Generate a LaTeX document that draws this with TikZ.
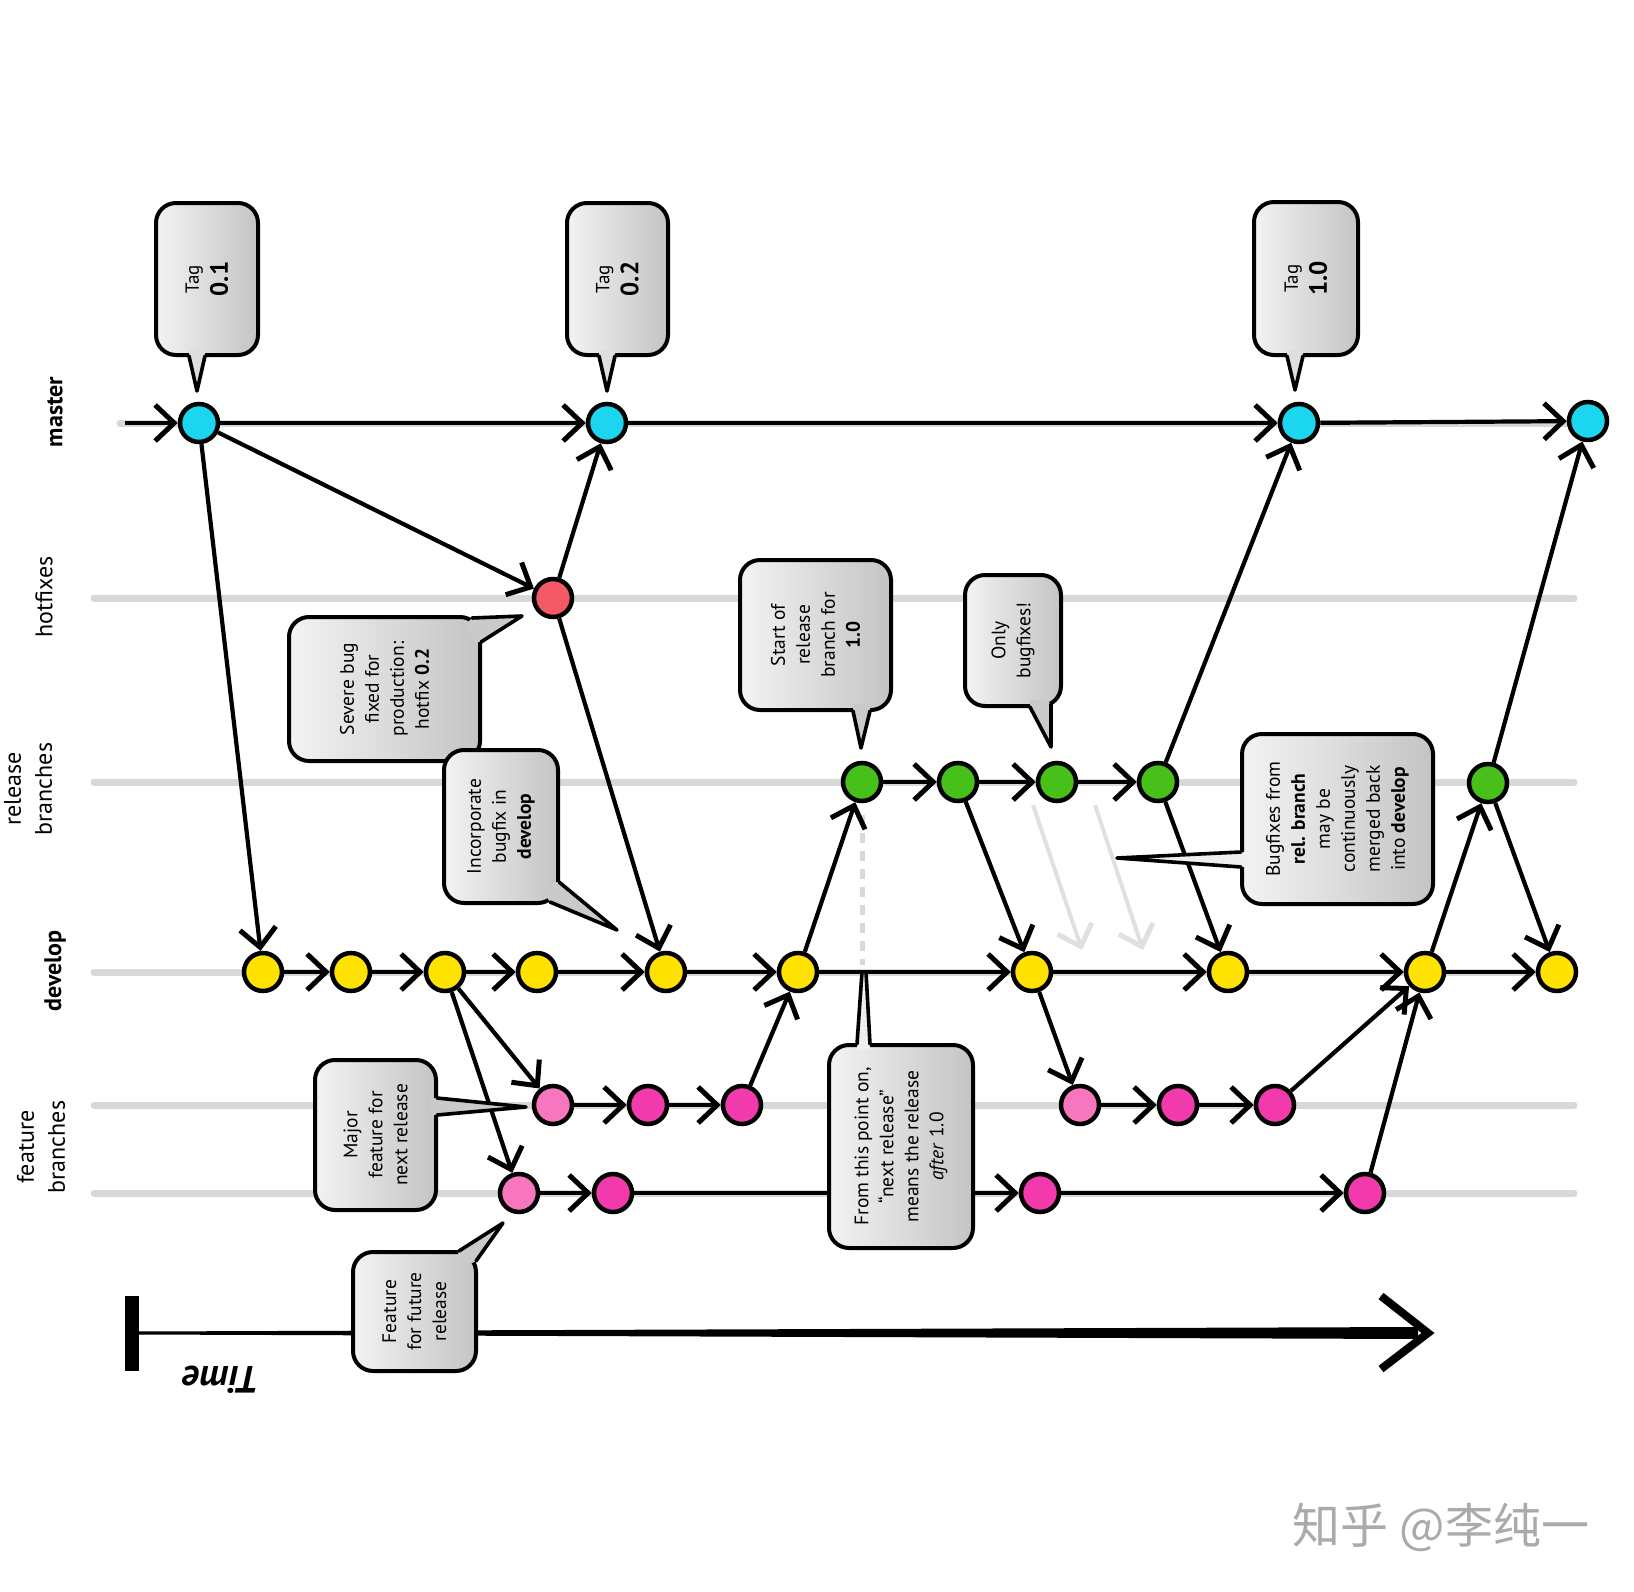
\documentclass[tikz,border=0pt]{standalone}
\usepackage{fontspec}
\setmainfont{PT Sans}
\newfontfamily\cjkfont{Noto Sans CJK SC}
\usetikzlibrary{arrows.meta}
\definecolor{mcyan}{RGB}{28,214,240}
\definecolor{hred}{RGB}{243,90,102}
\definecolor{rgreen}{RGB}{72,192,26}
\definecolor{dyellow}{RGB}{255,226,0}
\definecolor{fpink}{RGB}{242,58,172}
\definecolor{fpinkl}{RGB}{247,118,190}
\definecolor{lanegrey}{RGB}{216,216,216}
\definecolor{ghostgrey}{RGB}{224,224,224}
\definecolor{wmgrey}{RGB}{170,170,170}
\definecolor{cbl}{RGB}{243,243,243}
\definecolor{cbd}{RGB}{196,196,196}
\definecolor{tl}{RGB}{238,238,238}
\definecolor{tm}{RGB}{222,222,222}
\definecolor{td}{RGB}{202,202,202}
\begin{document}
\begin{tikzpicture}[x=1pt,y=-1pt,
  lane/.style={line width=7pt, draw=lanegrey, line cap=round},
  commit/.style={circle, draw=black, line width=4.5pt, minimum size=38pt, inner sep=0pt},
  edge/.style={draw=black, line width=4.2pt, -{Straight Barb[length=19pt,width=36pt,line width=5pt]}},
  ghost/.style={draw=ghostgrey, line width=4pt, -{Straight Barb[length=19pt,width=36pt,line width=5pt]}},
  bubble/.style={draw=black, line width=4pt, rounded corners=20pt, left color=cbl, right color=cbd, rotate=90, align=center, inner sep=0pt, font=\fontsize{19.5}{25}\selectfont},
  tagbubble/.style={bubble, font=\fontsize{25}{29}\selectfont},
  tailline/.style={draw=black, line width=3.6pt, line join=round, line cap=round},
  lanelabel/.style={rotate=90, align=center, font=\fontsize{24}{31}\selectfont},
]
% canvas
\fill[white] (0,0) rectangle (1634,1592);
\useasboundingbox (0,0) rectangle (1634,1592);

% lanes
\draw[lane] (120,423) -- (1574,423);
\draw[lane] (94,598) -- (1574,598);
\draw[lane] (94,782) -- (1574,782);
\draw[lane] (94,972) -- (1574,972);
\draw[lane] (94,1105) -- (1574,1105);
\draw[lane] (94,1193) -- (1574,1193);

% lane labels
\node[lanelabel] (lmaster) at (55,412) {\bfseries master};
\node[lanelabel] (lhot) at (44,597) {hotfixes};
\node[lanelabel] (lrel) at (28,789) {release\\branches};
\node[lanelabel] (ldev) at (55,971) {\bfseries develop};
\node[lanelabel] (lfeat) at (41,1147) {feature\\branches};

% dashed marker and ghost arrows
\coordinate (dsh1) at (862,815);
\coordinate (dsh2) at (862,965);
\draw[draw=lanegrey, line width=5pt, dash pattern=on 10pt off 8pt] (dsh1) -- (dsh2);
\coordinate (ga1) at (1033,805); \coordinate (ga2) at (1082,950);
\coordinate (gb1) at (1095,805); \coordinate (gb2) at (1143,950);
\draw[ghost] (ga1) -- (ga2);
\draw[ghost] (gb1) -- (gb2);

% commits
\node[commit, fill=mcyan] (m1) at (199,423) {};
\node[commit, fill=mcyan] (m2) at (607,423) {};
\node[commit, fill=mcyan] (m3) at (1299,423) {};
\node[commit, fill=mcyan] (m4) at (1588,421) {};
\node[commit, fill=hred] (h1) at (553,598) {};
\node[commit, fill=rgreen] (r1) at (862,782) {};
\node[commit, fill=rgreen] (r2) at (958,782) {};
\node[commit, fill=rgreen] (r3) at (1057,782) {};
\node[commit, fill=rgreen] (r4) at (1158,782) {};
\node[commit, fill=rgreen] (r5) at (1488,783) {};
\node[commit, fill=dyellow] (d1) at (263,972) {};
\node[commit, fill=dyellow] (d2) at (351,972) {};
\node[commit, fill=dyellow] (d3) at (445,972) {};
\node[commit, fill=dyellow] (d4) at (537,972) {};
\node[commit, fill=dyellow] (d5) at (666,972) {};
\node[commit, fill=dyellow] (d6) at (798,972) {};
\node[commit, fill=dyellow] (d7) at (1032,972) {};
\node[commit, fill=dyellow] (d8) at (1228,972) {};
\node[commit, fill=dyellow] (d9) at (1425,972) {};
\node[commit, fill=dyellow] (d10) at (1557,972) {};
\node[commit, fill=fpinkl] (f1) at (553,1105) {};
\node[commit, fill=fpink] (f2) at (648,1105) {};
\node[commit, fill=fpink] (f3) at (742,1105) {};
\node[commit, fill=fpinkl] (f4) at (1080,1105) {};
\node[commit, fill=fpink] (f5) at (1178,1105) {};
\node[commit, fill=fpink] (f6) at (1275,1105) {};
\node[commit, fill=fpinkl] (g1) at (519,1193) {};
\node[commit, fill=fpink] (g2) at (613,1193) {};
\node[commit, fill=fpink] (g3) at (1040,1193) {};
\node[commit, fill=fpink] (g4) at (1365,1193) {};

% connectors
\coordinate (mstart) at (125,423);
\draw[edge] (mstart) -- (m1);
\draw[edge] (m1) -- (m2);
\draw[edge] (m2) -- (m3);
\draw[edge] (m3) -- (m4);
\draw[edge] (m1) -- (h1);
\draw[edge] (h1) -- (m2);
\draw[edge] (h1) -- (d5);
\draw[edge] (m1) -- (d1);
\draw[edge] (d1) -- (d2);
\draw[edge] (d2) -- (d3);
\draw[edge] (d3) -- (d4);
\draw[edge] (d4) -- (d5);
\draw[edge] (d5) -- (d6);
\draw[edge] (d6) -- (d7);
\draw[edge] (d7) -- (d8);
\draw[edge] (d8) -- (d9);
\draw[edge] (d9) -- (d10);
\draw[edge] (d3) -- (f1);
\draw[edge] (d3) -- (g1);
\draw[edge] (f1) -- (f2);
\draw[edge] (f2) -- (f3);
\draw[edge] (f3) -- (d6);
\draw[edge] (g1) -- (g2);
\draw[edge] (g2) -- (g3);
\draw[edge] (g3) -- (g4);
\draw[edge] (g4) -- (d9);
\draw[edge] (d6) -- (r1);
\draw[edge] (r1) -- (r2);
\draw[edge] (r2) -- (r3);
\draw[edge] (r3) -- (r4);
\draw[edge] (r2) -- (d7);
\draw[edge] (r4) -- (m3);
\draw[edge] (r4) -- (d8);
\draw[edge] (d7) -- (f4);
\draw[edge] (f4) -- (f5);
\draw[edge] (f5) -- (f6);
\draw[edge] (f6) -- (d9);
\draw[edge] (d9) -- (r5);
\draw[edge] (r5) -- (m4);
\draw[edge] (r5) -- (d10);

% time arrow
\coordinate (t0) at (132,1333);
\coordinate (t1) at (1428,1333);
\fill[black] (125,1296) rectangle (139,1371);
\fill[black] (132,1331.5) -- (1418,1327) -- (1418,1339) -- (132,1334.5) -- cycle;
\draw[line width=8pt, line join=miter, miter limit=6] (1381,1296) -- (t1) -- (1381,1369);
\node[rotate=180, font=\fontsize{38}{40}\selectfont\bfseries\itshape] (timelabel) at (221,1380) {Time};

% callouts
\node[tagbubble, minimum width=152pt, minimum height=102pt] (tag1) at (207,279) {{\fontsize{19}{20}\selectfont Tag}\\\textbf{0.1}};
\fill[tm] (189,350) -- (189,356) -- (197,391) -- (205,356) -- (205,350) -- cycle;
\draw[tailline] (189,356) -- (197,391) -- (205,356);

\node[tagbubble, minimum width=152pt, minimum height=101pt] (tag2) at (617.5,279) {{\fontsize{19}{20}\selectfont Tag}\\\textbf{0.2}};
\fill[tm] (599,350) -- (599,356) -- (607,391) -- (615,356) -- (615,350) -- cycle;
\draw[tailline] (599,356) -- (607,391) -- (615,356);

\node[tagbubble, minimum width=153pt, minimum height=104pt] (tag3) at (1306,278.5) {{\fontsize{19}{20}\selectfont Tag}\\\textbf{1.0}};
\fill[tm] (1287,350) -- (1287,356) -- (1295,390) -- (1303,356) -- (1303,350) -- cycle;
\draw[tailline] (1287,356) -- (1295,390) -- (1303,356);

\node[bubble, minimum width=144pt, minimum height=191pt] (csevere) at (384.5,689) {Severe bug\\fixed for\\production:\\hotfix \textbf{0.2}};
\fill[td] (472,618) -- (522,616) -- (481,642) -- (475,642) -- (466,624) -- cycle;
\draw[tailline] (472,618) -- (522,616) -- (481,642);

\node[bubble, minimum width=153pt, minimum height=114pt] (cincorp) at (501,826.5) {Incorporate\\bugfix in\\\textbf{develop}};
\fill[td] (559,882) -- (617,930) -- (550,902) -- (546,896) -- (554,882) -- cycle;
\draw[tailline] (559,882) -- (617,930) -- (550,902);

\node[bubble, minimum width=150pt, minimum height=151pt] (cstart) at (815.5,635) {Start of\\release\\branch for\\\textbf{1.0}};
\fill[td] (853,704) -- (853,711) -- (861,748) -- (870,711) -- (870,704) -- cycle;
\draw[tailline] (853,711) -- (861,748) -- (870,711);

\node[bubble, minimum width=131pt, minimum height=96pt] (conly) at (1013,640.5) {Only\\bugfixes!};
\fill[td] (1030,700) -- (1030,707) -- (1051,747) -- (1051,704) -- (1046,700) -- cycle;
\draw[tailline] (1030,707) -- (1051,747) -- (1051,704);

\node[bubble, minimum width=170pt, minimum height=191pt] (cbug) at (1337.5,819) {Bugfixes from\\\textbf{rel. branch}\\may be\\continuously\\merged back\\into \textbf{develop}};
\fill[tl] (1247,852) -- (1241,852) -- (1117,858) -- (1241,867) -- (1247,867) -- cycle;
\draw[tailline] (1241,852) -- (1117,858) -- (1241,867);

\node[bubble, minimum width=150pt, minimum height=121pt] (cmajor) at (375.5,1135) {Major\\feature for\\next release};
\fill[td] (431,1098) -- (437,1098) -- (526,1107) -- (437,1115) -- (431,1115) -- cycle;
\draw[tailline] (437,1098) -- (526,1107) -- (437,1115);

\node[bubble, minimum width=203pt, minimum height=144pt] (cfrom) at (901,1146.5) {From this point on,\\“next release”\\means the release\\\textit{after} 1.0};
\fill[tl] (857,1050) -- (857,1044) -- (862,972) -- (866,972) -- (870,1044) -- (870,1050) -- cycle;
\draw[tailline] (857,1044) -- (862,972) -- (866,972) -- (870,1044);

\node[bubble, minimum width=119pt, minimum height=123pt] (cfuture) at (414.5,1311.5) {Feature\\for future\\release};
\fill[td] (459,1251) -- (503,1223) -- (476,1261) -- (470,1264) -- (457,1257) -- cycle;
\draw[tailline] (459,1251) -- (503,1223) -- (476,1261);

% watermark
\node[font=\cjkfont\fontsize{48}{50}\selectfont, text=wmgrey] (wm) at (1441,1527) {知乎 @李纯一};
\end{tikzpicture}
\end{document}
